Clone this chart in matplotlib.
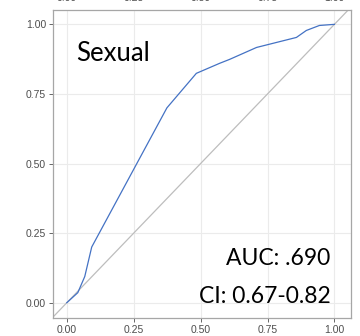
import matplotlib
matplotlib.use("Agg")
import matplotlib.pyplot as plt

# ROC curve (false positive rate, true positive rate)
fpr = [0.0, 0.041, 0.067, 0.093, 0.374, 0.484, 0.571, 0.608, 0.709, 0.858, 0.895, 0.944, 1.0]
tpr = [0.0, 0.036, 0.094, 0.200, 0.700, 0.824, 0.860, 0.874, 0.917, 0.953, 0.978, 0.996, 1.0]

ticks = [0.0, 0.25, 0.5, 0.75, 1.0]
tick_labels = ["0.00", "0.25", "0.50", "0.75", "1.00"]

title = "Sexual"
auc_text = "AUC: .690"
ci_text = "CI: 0.67-0.82"

fig = plt.figure(figsize=(3.6, 3.36), dpi=100)
ax = fig.add_axes([0.147, 0.0536, 0.828, 0.917])

ax.set_xlim(-0.052, 1.062)
ax.set_ylim(-0.055, 1.052)

# reference diagonal across the whole panel
ax.plot([-0.1, 1.1], [-0.1, 1.1], color="#bdbdbd", lw=0.9, zorder=2)
ax.plot(fpr, tpr, color="#4472c4", lw=0.9, zorder=3)

ax.set_xticks(ticks)
ax.set_yticks(ticks)
ax.set_xticklabels(tick_labels)
ax.set_yticklabels(tick_labels)
ax.grid(True, color="#ebebeb", lw=0.8)
ax.set_axisbelow(True)
ax.tick_params(labelsize=7.5, colors="#4d4d4d", length=3, width=0.6,
               labelcolor="#4d4d4d", pad=2)
for lab in ax.get_xticklabels() + ax.get_yticklabels():
    lab.set_family("Liberation Sans")
for s in ax.spines.values():
    s.set_color("#a6a6a6")
    s.set_linewidth(0.9)

ax.text(0.035, 0.87, title, fontsize=18.5, family="Lato", color="black",
        va="baseline", ha="left")
ax.text(0.986, 0.134, auc_text, fontsize=16.5, family="Lato", color="black",
        va="baseline", ha="right")
ax.text(0.986, 0.0, ci_text, fontsize=16.5, family="Lato", color="black",
        va="baseline", ha="right")

# tick labels of the panel above, mostly cut off at the top edge
for t, lab in zip(ticks, tick_labels):
    xf = 0.147 + 0.828 * (t + 0.052) / 1.114
    fig.text(xf, 1.0 + 1.5 / 336, lab, fontsize=7.5, family="Liberation Sans",
             color="#4d4d4d", ha="center", va="center")

fig.savefig("out.png", dpi=100)
